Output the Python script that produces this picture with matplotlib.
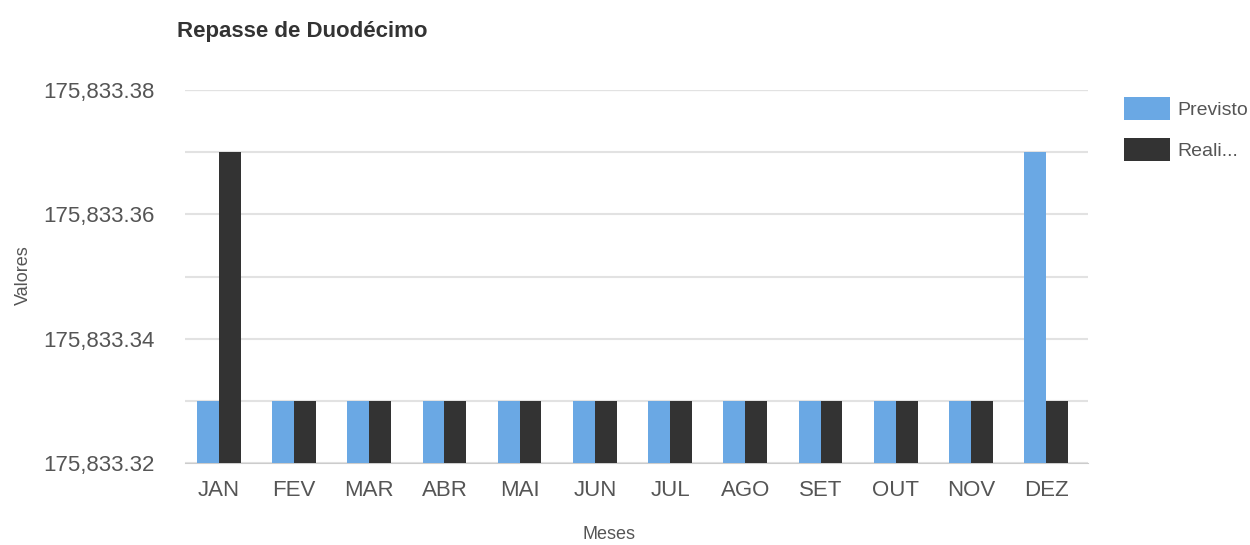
import numpy as np
import matplotlib.pyplot as plt
from matplotlib.ticker import FuncFormatter, MultipleLocator

plt.rcParams['font.family'] = ['Liberation Sans', 'DejaVu Sans']

meses = ['JAN', 'FEV', 'MAR', 'ABR', 'MAI', 'JUN', 'JUL', 'AGO', 'SET', 'OUT', 'NOV', 'DEZ']
previsto = [175833.33] * 11 + [175833.37]
realizado = [175833.37] + [175833.33] * 11
y_ticks = [175833.32, 175833.34, 175833.36, 175833.38]

cor_prev = '#6aa8e4'
cor_real = '#333333'

fig = plt.figure(figsize=(12.5, 5.45), dpi=100)
ax = fig.add_axes([0.148, 0.150, 0.722, 0.685])

x = np.arange(len(meses))
w = 0.29
base = y_ticks[0]
ax.bar(x - w / 2, np.array(previsto) - base, w, bottom=base, color=cor_prev, label='Previsto', zorder=3)
ax.bar(x + w / 2, np.array(realizado) - base, w, bottom=base, color=cor_real, label='Reali...', zorder=3)

ax.set_xlim(-0.45, 11.55)
ax.set_ylim(y_ticks[0], y_ticks[-1])
ax.set_yticks(y_ticks)
ax.yaxis.set_minor_locator(MultipleLocator(0.01))
ax.yaxis.set_major_formatter(FuncFormatter(lambda v, p: f'{v:,.2f}'))
ax.grid(axis='y', which='both', color='#e2e2e2', linewidth=1.5, zorder=0)
ax.set_xticks(x)
ax.set_xticklabels(meses)
ax.tick_params(axis='both', length=0, labelsize=16, labelcolor='#555555')
ax.tick_params(axis='y', pad=22)
ax.tick_params(axis='x', pad=12)
ax.tick_params(axis='y', which='minor', length=0)
for s in ['top', 'right', 'left']:
    ax.spines[s].set_visible(False)
ax.spines['bottom'].set_color('#cccccc')
ax.axhline(y_ticks[-1], color='#cccccc', linewidth=1.5, zorder=1)

fig.text(0.142, 0.932, 'Repasse de Duodécimo', fontsize=16, color='#333333', weight='bold')
fig.text(0.012, 0.495, 'Valores', fontsize=13, color='#555555', rotation=90, va='center')
fig.text(0.487, 0.004, 'Meses', fontsize=13, color='#555555', ha='center', va='bottom')

ax.legend(loc='upper left', bbox_to_anchor=(0.885, 0.855), bbox_transform=fig.transFigure,
          frameon=False, fontsize=14, handlelength=2.4, handleheight=1.5,
          labelspacing=0.9, handletextpad=0.35, labelcolor='#555555')

fig.savefig('out.png', dpi=100)
